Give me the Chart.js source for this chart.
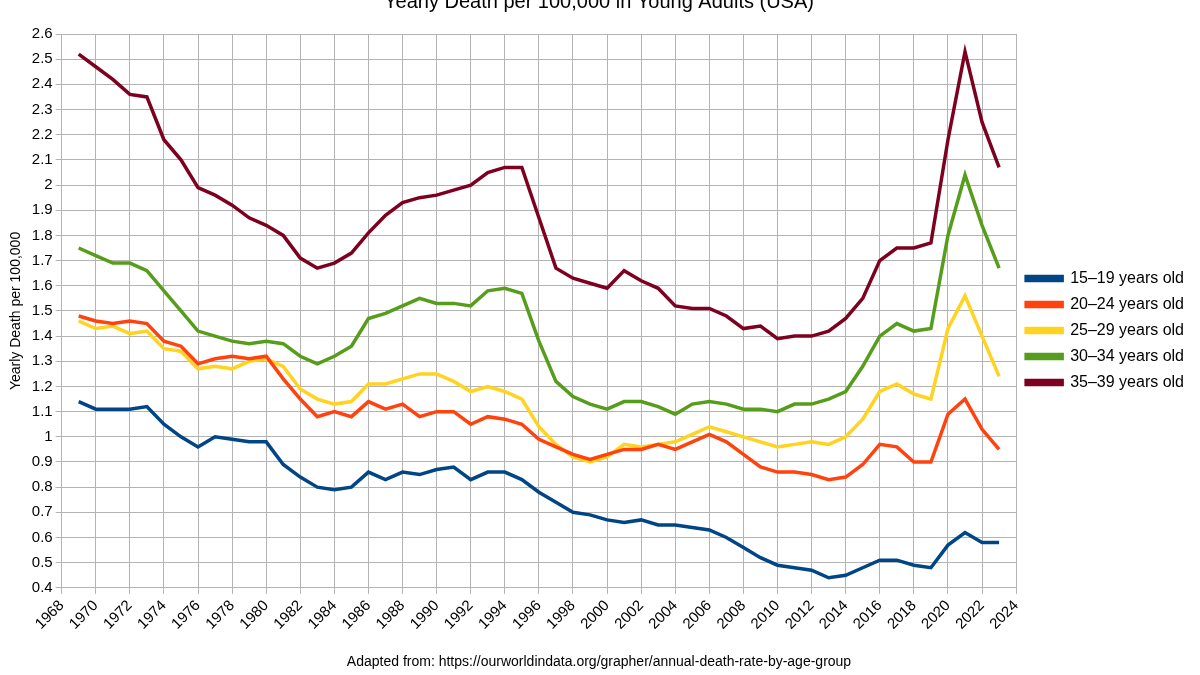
<!DOCTYPE html>
<html>
<head>
<meta charset="utf-8">
<script src="https://cdn.jsdelivr.net/npm/chart.js@4/dist/chart.umd.min.js"></script>
<style>
  html, body { margin: 0; padding: 0; background: #fff; overflow: hidden; }
  #wrap { width: 1200px; height: 685px; margin-top: -10px; }
</style>
</head>
<body>
<div id="wrap"><canvas id="deathChart"></canvas></div>
<script>
const years = [];
for (let y = 1969; y <= 2023; y++) years.push(y);

const age15to19 = [1.14,1.11,1.11,1.11,1.12,1.05,1.00,0.96,1.00,0.99,0.98,0.98,0.89,0.84,0.80,0.79,0.80,0.86,0.83,0.86,0.85,0.87,0.88,0.83,0.86,0.86,0.83,0.78,0.74,0.70,0.69,0.67,0.66,0.67,0.65,0.65,0.64,0.63,0.60,0.56,0.52,0.49,0.48,0.47,0.44,0.45,0.48,0.51,0.51,0.49,0.48,0.57,0.62,0.58,0.58];
const age20to24 = [1.48,1.46,1.45,1.46,1.45,1.38,1.36,1.29,1.31,1.32,1.31,1.32,1.23,1.15,1.08,1.10,1.08,1.14,1.11,1.13,1.08,1.10,1.10,1.05,1.08,1.07,1.05,0.99,0.96,0.93,0.91,0.93,0.95,0.95,0.97,0.95,0.98,1.01,0.98,0.93,0.88,0.86,0.86,0.85,0.83,0.84,0.89,0.97,0.96,0.90,0.90,1.09,1.15,1.03,0.95];
const age25to29 = [1.46,1.43,1.44,1.41,1.42,1.35,1.34,1.27,1.28,1.27,1.30,1.31,1.28,1.19,1.15,1.13,1.14,1.21,1.21,1.23,1.25,1.25,1.22,1.18,1.20,1.18,1.15,1.04,0.97,0.92,0.90,0.92,0.97,0.96,0.97,0.98,1.01,1.04,1.02,1.00,0.98,0.96,0.97,0.98,0.97,1.00,1.07,1.18,1.21,1.17,1.15,1.43,1.56,1.40,1.24];
const age30to34 = [1.75,1.72,1.69,1.69,1.66,1.58,1.50,1.42,1.40,1.38,1.37,1.38,1.37,1.32,1.29,1.32,1.36,1.47,1.49,1.52,1.55,1.53,1.53,1.52,1.58,1.59,1.57,1.38,1.22,1.16,1.13,1.11,1.14,1.14,1.12,1.09,1.13,1.14,1.13,1.11,1.11,1.10,1.13,1.13,1.15,1.18,1.28,1.40,1.45,1.42,1.43,1.80,2.04,1.84,1.67];
const age35to39 = [2.52,2.47,2.42,2.36,2.35,2.18,2.10,1.99,1.96,1.92,1.87,1.84,1.80,1.71,1.67,1.69,1.73,1.81,1.88,1.93,1.95,1.96,1.98,2.00,2.05,2.07,2.07,1.87,1.67,1.63,1.61,1.59,1.66,1.62,1.59,1.52,1.51,1.51,1.48,1.43,1.44,1.39,1.40,1.40,1.42,1.47,1.55,1.70,1.75,1.75,1.77,2.18,2.53,2.25,2.07];

const seriesNames = ["15–19 years old", "20–24 years old", "25–29 years old", "30–34 years old", "35–39 years old"];
const seriesValues = [age15to19, age20to24, age25to29, age30to34, age35to39];
const seriesColors = ["#004586", "#ff420e", "#ffd320", "#579d1c", "#7e0021"];

const font = "'Liberation Sans', Arial, sans-serif";
Chart.defaults.font.family = font;
Chart.defaults.color = "#000";

const datasets = seriesValues.map((vals, i) => ({
    label: seriesNames[i],
    data: vals.map((v, j) => ({ x: years[j], y: v })),
    borderColor: seriesColors[i],
    backgroundColor: seriesColors[i],
    borderWidth: 3.5,
    pointRadius: 0,
    tension: 0
}));

new Chart(document.getElementById("deathChart"), {
    type: "line",
    data: { datasets },
    options: {
        responsive: true,
        maintainAspectRatio: false,
        animation: false,
        layout: { padding: { left: 4, right: 6, bottom: 4 } },
        plugins: {
            title: {
                display: true,
                text: "Yearly Death per 100,000 in Young Adults (USA)",
                font: { size: 20, weight: "normal" },
                padding: { top: 0, bottom: 20 }
            },
            subtitle: {
                display: true,
                position: "bottom",
                text: "Adapted from: https://ourworldindata.org/grapher/annual-death-rate-by-age-group",
                font: { size: 14 },
                padding: { top: 18, bottom: 0 }
            },
            legend: {
                position: "right",
                labels: {
                    boxWidth: 36,
                    boxHeight: 4,
                    padding: 10,
                    font: { size: 16 }
                }
            },
            tooltip: { enabled: false }
        },
        scales: {
            x: {
                type: "linear",
                min: 1968,
                max: 2024,
                ticks: { stepSize: 2, maxRotation: 45, minRotation: 45, font: { size: 15 }, callback: v => String(v) },
                grid: { color: "#b3b3b3", drawTicks: true, tickLength: 6 },
                border: { color: "#b3b3b3" }
            },
            y: {
                min: 0.4,
                max: 2.6,
                ticks: { stepSize: 0.1, font: { size: 15 }, callback: v => String(Math.round(v * 10) / 10) },
                grid: { color: "#b3b3b3", tickLength: 6 },
                border: { color: "#b3b3b3" },
                title: { display: true, text: "Yearly Death per 100,000", font: { size: 14 } }
            }
        }
    }
});
</script>
</body>
</html>
